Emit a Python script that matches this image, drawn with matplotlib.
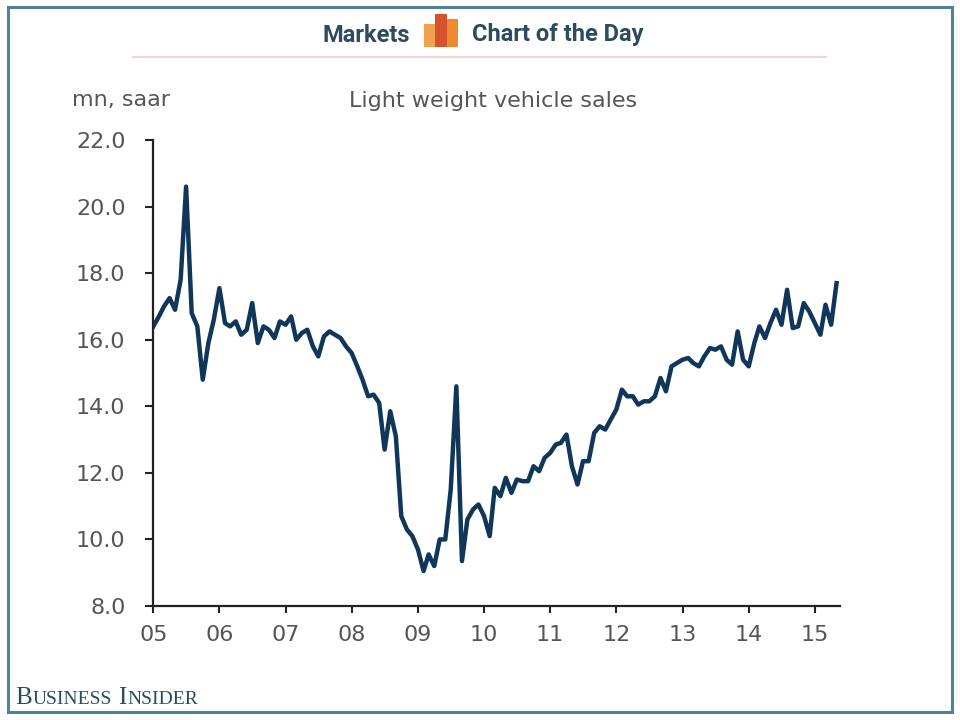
import matplotlib
matplotlib.use('Agg')
import matplotlib.pyplot as plt
from matplotlib.patches import Rectangle
from matplotlib.lines import Line2D
import pandas as pd

# light weight vehicle sales, mn saar, monthly Jan 2005 - May 2015
sales = [16.4, 16.7, 17.0, 17.25, 16.9, 17.8, 20.6, 16.8, 16.4, 14.8, 15.9, 16.6,
         17.55, 16.5, 16.4, 16.55, 16.15, 16.3, 17.1, 15.9, 16.4, 16.3, 16.05, 16.55,
         16.45, 16.7, 16.0, 16.2, 16.3, 15.8, 15.5, 16.1, 16.25, 16.15, 16.05, 15.8,
         15.6, 15.2, 14.8, 14.3, 14.35, 14.1, 12.7, 13.85, 13.1, 10.7, 10.3, 10.1,
         9.7, 9.05, 9.55, 9.2, 10.0, 10.0, 11.5, 14.6, 9.35, 10.6, 10.9, 11.05,
         10.7, 10.1, 11.55, 11.3, 11.85, 11.4, 11.8, 11.75, 11.75, 12.2, 12.05, 12.45,
         12.6, 12.85, 12.9, 13.15, 12.2, 11.65, 12.35, 12.35, 13.2, 13.4, 13.3, 13.6,
         13.9, 14.5, 14.3, 14.3, 14.05, 14.15, 14.15, 14.3, 14.85, 14.45, 15.2, 15.3,
         15.4, 15.45, 15.3, 15.2, 15.5, 15.75, 15.7, 15.8, 15.4, 15.25, 16.25, 15.4,
         15.2, 15.9, 16.4, 16.05, 16.5, 16.9, 16.45, 17.5, 16.35, 16.4, 17.1, 16.85,
         16.5, 16.15, 17.05, 16.45, 17.7]
months = pd.date_range('2005-01-01', periods=len(sales), freq='MS')

year_ticks = pd.date_range('2005-01-01', '2015-01-01', freq='YS')
year_labels = ['05', '06', '07', '08', '09', '10', '11', '12', '13', '14', '15']
y_ticks = [8.0, 10.0, 12.0, 14.0, 16.0, 18.0, 20.0, 22.0]

W, H = 960.0, 720.0

def fx(px):
    return px / W

def fy(py):
    return 1 - py / H

fig = plt.figure(figsize=(9.6, 7.2), dpi=100)
fig.patch.set_facecolor('white')

ax = fig.add_axes([fx(153.3), fy(606), fx(840) - fx(153.3), fy(140) - fy(606)])
ax.plot(months, sales, color='#10365a', lw=3.2, solid_joinstyle='round')

ax.set_ylim(8, 22)
ax.set_yticks(y_ticks)
ax.set_yticklabels(['%.1f' % v for v in y_ticks])
ax.set_xlim(pd.Timestamp('2005-01-01'), pd.Timestamp('2015-05-20'))
ax.set_xticks(year_ticks)
ax.set_xticklabels(year_labels)

for side in ['top', 'right']:
    ax.spines[side].set_visible(False)
for side in ['left', 'bottom']:
    ax.spines[side].set_linewidth(1.6)
    ax.spines[side].set_color('#222222')
ax.tick_params(axis='y', direction='out', length=6, width=1.5, color='#222222',
               pad=14, labelsize=16, labelcolor='#555555')
ax.tick_params(axis='x', direction='out', length=5, width=1.5, color='#222222',
               pad=9, labelsize=16, labelcolor='#555555')

# labels above the plot
fig.text(fx(72), fy(100), 'mn, saar', fontsize=16, color='#555555',
         ha='left', va='center', family='DejaVu Sans')
fig.text(fx(493), fy(101), 'Light weight vehicle sales', fontsize=16, color='#555555',
         ha='center', va='center', family='DejaVu Sans')

# header
head_col = '#2c4b5d'
fig.text(fx(410), fy(35), 'Markets', fontsize=17, fontweight='bold', color=head_col,
         ha='right', va='center', family='Roboto')
fig.text(fx(472), fy(35), 'Chart of the Day', fontsize=17, fontweight='bold', color=head_col,
         ha='left', va='center', family='Roboto')
bars = [(424, 436, 24, '#f2a24f'), (435, 447, 14, '#d5522b'), (447, 458, 19, '#f08a2f')]
for x0, x1, top, col in bars:
    fig.patches.append(Rectangle((fx(x0), fy(47)), fx(x1) - fx(x0), fy(top) - fy(47),
                                 transform=fig.transFigure, facecolor=col, edgecolor='none'))
fig.lines.append(Line2D([fx(133), fx(826)], [fy(57), fy(57)], transform=fig.transFigure,
                        color='#f6cdbf', lw=1.3))

# outer frame
fig.patches.append(Rectangle((fx(8), fy(712)), fx(952) - fx(8), fy(7) - fy(712),
                             transform=fig.transFigure, facecolor='none',
                             edgecolor='#4f809c', lw=2.2))

# footer, small caps drawn piece by piece
renderer = fig.canvas.get_renderer()
foot_col = '#2a4a5e'
pieces = [('B', 18), ('USINESS', 14), (' ', 14), ('I', 18), ('NSIDER', 14)]
x = fx(15)
for s, size in pieces:
    t = fig.text(x, fy(704), s, fontsize=size, color=foot_col, ha='left', va='baseline',
                 family='Liberation Serif')
    bb = t.get_window_extent(renderer=renderer)
    x += bb.width / W + 0.0008

fig.savefig('out.png', dpi=100, facecolor='white')
